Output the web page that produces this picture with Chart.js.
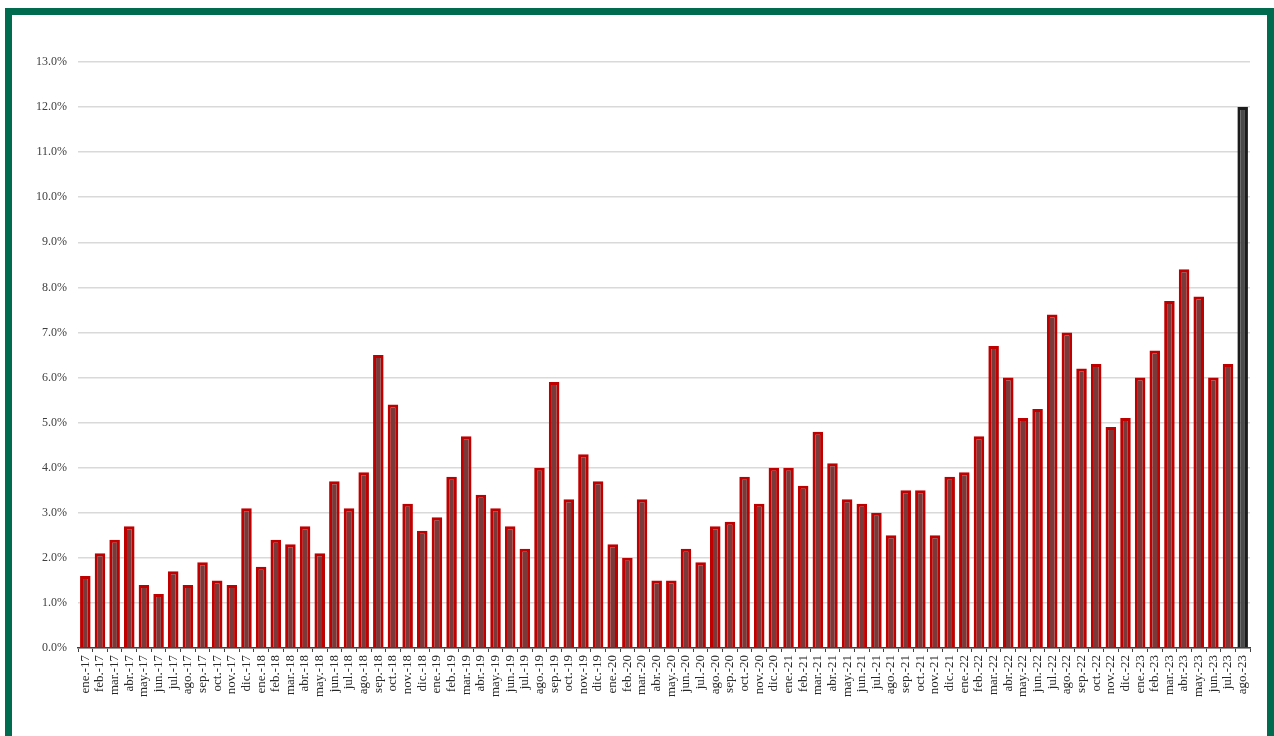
<!DOCTYPE html>
<html>
<head>
<meta charset="utf-8">
<script src="https://cdn.jsdelivr.net/npm/chart.js@4"></script>
<style>
    html, body { margin: 0; padding: 0; background: #fff; overflow: hidden; }
    #frame {
        position: absolute; left: 5px; top: 8px; width: 1255px; height: 760px;
        border: 7px solid #006b4f; border-bottom: none;
    }
    #wrap { position: absolute; left: 0; top: 0; width: 1274px; height: 736px; }
</style>
</head>
<body>
<div id="frame"></div>
<div id="wrap"><canvas id="chart" width="1274" height="736"></canvas></div>
<script>
// ===== DATOS =====
const months = ['ene.', 'feb.', 'mar.', 'abr.', 'may.', 'jun.', 'jul.', 'ago.', 'sep.', 'oct.', 'nov.', 'dic.'];
const years = ['17', '18', '19', '20', '21', '22', '23'];
const lastMonthIndex = 7; // ago.-23

const labels = [];
years.forEach((y, yi) => {
    months.forEach((m, mi) => {
        if (yi === years.length - 1 && mi > lastMonthIndex) return;
        labels.push(`${m}-${y}`);
    });
});

// Porcentajes (%)
const values = [
    1.6, 2.1, 2.4, 2.7, 1.4, 1.2, 1.7, 1.4, 1.9, 1.5, 1.4, 3.1,   // 2017
    1.8, 2.4, 2.3, 2.7, 2.1, 3.7, 3.1, 3.9, 6.5, 5.4, 3.2, 2.6,   // 2018
    2.9, 3.8, 4.7, 3.4, 3.1, 2.7, 2.2, 4.0, 5.9, 3.3, 4.3, 3.7,   // 2019
    2.3, 2.0, 3.3, 1.5, 1.5, 2.2, 1.9, 2.7, 2.8, 3.8, 3.2, 4.0,   // 2020
    4.0, 3.6, 4.8, 4.1, 3.3, 3.2, 3.0, 2.5, 3.5, 3.5, 2.5, 3.8,   // 2021
    3.9, 4.7, 6.7, 6.0, 5.1, 5.3, 7.4, 7.0, 6.2, 6.3, 4.9, 5.1,   // 2022
    6.0, 6.6, 7.7, 8.4, 7.8, 6.0, 6.3, 12.0                       // 2023
];

const yTicks = [0, 1, 2, 3, 4, 5, 6, 7, 8, 9, 10, 11, 12, 13];

// ===== ESTILOS =====
const RED_BORDER = '#c00000';
const RED_FILL = '#7a3a3a';
const LAST_BORDER = '#1c1c1c';
const LAST_FILL = '#4a4a4a';
const FONT = "'Liberation Serif', 'Times New Roman', serif";

const lastIdx = values.length - 1;

// ===== GRÁFICA =====
const ctx = document.getElementById('chart').getContext('2d');
new Chart(ctx, {
    type: 'bar',
    data: {
        labels,
        datasets: [{
            data: values,
            backgroundColor: values.map((v, i) => i === lastIdx ? LAST_FILL : RED_FILL),
            borderColor: values.map((v, i) => i === lastIdx ? LAST_BORDER : RED_BORDER),
            borderWidth: 3,
            borderSkipped: 'bottom',
            barPercentage: 0.72,
            categoryPercentage: 1.0,
        }]
    },
    options: {
        responsive: false,
        animation: false,
        layout: { padding: { top: 62, right: 24, bottom: 0, left: 0 } },
        plugins: {
            legend: { display: false },
            tooltip: { enabled: false }
        },
        scales: {
            x: {
                afterFit: scale => { scale.height = 88; },
                grid: {
                    offset: true,
                    drawOnChartArea: false,
                    drawTicks: true,
                    tickLength: 4,
                    color: '#404040',
                },
                border: { display: true, color: '#404040', width: 1.5 },
                ticks: {
                    autoSkip: false,
                    maxRotation: 90,
                    minRotation: 90,
                    padding: 3,
                    color: '#262626',
                    font: { family: FONT, size: 13 },
                }
            },
            y: {
                min: 0,
                max: 13,
                afterFit: scale => { scale.width = 78; },
                afterBuildTicks: scale => { scale.ticks = yTicks.map(v => ({ value: v })); },
                grid: {
                    color: '#d9d9d9',
                    lineWidth: 1.5,
                    drawTicks: false,
                },
                border: { display: false },
                ticks: {
                    padding: 11,
                    color: '#404040',
                    font: { family: FONT, size: 12 },
                    callback: v => `${Number(v).toFixed(1)}%`,
                }
            }
        }
    }
});
</script>
</body>
</html>
